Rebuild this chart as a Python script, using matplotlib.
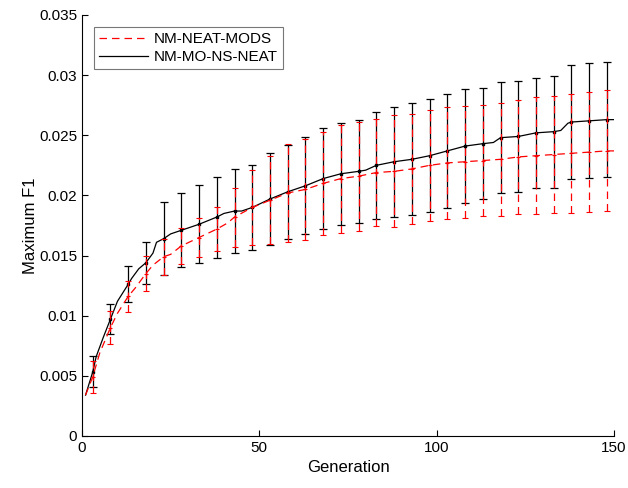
import numpy as np
import matplotlib
matplotlib.use('Agg')
import matplotlib.pyplot as plt

plt.rcParams['font.family'] = ['Liberation Sans', 'DejaVu Sans']

#===============================================================================
# data
#===============================================================================
# continuous mean curves
gen_black = [1, 3, 4, 6, 8, 10, 13, 14, 16, 18, 20, 21, 23, 25, 28, 33, 38, 40, 43, 45,
             48, 53, 58, 63, 68, 73, 78, 80, 83, 88, 93, 98, 103, 108, 113, 116, 118,
             123, 128, 133, 135, 137, 138, 143, 148, 150]
mean_black = [0.0034, 0.0053, 0.0066, 0.0082, 0.0097, 0.0112, 0.0126, 0.0131, 0.0139, 0.0144,
              0.0152, 0.0161, 0.0164, 0.0168, 0.0171, 0.0176, 0.0182, 0.0185, 0.0187, 0.0187,
              0.0190, 0.0197, 0.0203, 0.0208, 0.0214, 0.0218, 0.0220, 0.0221, 0.0225, 0.0228,
              0.0230, 0.0233, 0.0237, 0.0241, 0.0243, 0.0244, 0.0248, 0.0249, 0.0252, 0.0253,
              0.0254, 0.0260, 0.0261, 0.0262, 0.0263, 0.0263]

gen_red = [1, 3, 5, 8, 10, 13, 15, 18, 20, 23, 25, 28, 33, 38, 41, 43, 48, 53, 58, 63, 68,
           73, 78, 83, 88, 93, 98, 103, 108, 113, 118, 123, 128, 133, 138, 143, 148, 150]
mean_red = [0.0034, 0.0049, 0.0069, 0.0090, 0.0102, 0.0116, 0.0123, 0.0135, 0.0142, 0.0149,
            0.0151, 0.0158, 0.0165, 0.0172, 0.0177, 0.0182, 0.0190, 0.0196, 0.0202, 0.0205,
            0.0210, 0.0214, 0.0216, 0.0219, 0.0220, 0.0222, 0.0225, 0.0227, 0.0228, 0.0229,
            0.0230, 0.0232, 0.0233, 0.0234, 0.0235, 0.0236, 0.0237, 0.0237]

# error bars every 5 generations
gen_bars = [3, 8, 13, 18, 23, 28, 33, 38, 43, 48, 53, 58, 63, 68, 73, 78, 83, 88, 93, 98,
            103, 108, 113, 118, 123, 128, 133, 138, 143, 148]
bar_mean_black = [0.00535, 0.0097, 0.0126, 0.0144, 0.0164, 0.0171, 0.0176, 0.0182, 0.0187, 0.0190,
                  0.0197, 0.0203, 0.0208, 0.0214, 0.0218, 0.0220, 0.0225, 0.0228, 0.0230, 0.0233,
                  0.0237, 0.0241, 0.0243, 0.0248, 0.0249, 0.0252, 0.0253, 0.0261, 0.0262, 0.0263]
bar_err_black = [0.0013, 0.00126, 0.00149, 0.00173, 0.00304, 0.00309, 0.00326, 0.00337, 0.00347, 0.00355,
                 0.00383, 0.00392, 0.00403, 0.00419, 0.00426, 0.00431, 0.00445, 0.00456, 0.00466, 0.00469,
                 0.00473, 0.00471, 0.00462, 0.00461, 0.0046, 0.00458, 0.00466, 0.00476, 0.00478, 0.00479]
bar_mean_red = [0.0049, 0.0090, 0.0116, 0.0135, 0.0149, 0.0158, 0.0165, 0.0172, 0.0182, 0.0190,
                0.0196, 0.0202, 0.0205, 0.0210, 0.0214, 0.0216, 0.0219, 0.0220, 0.0222, 0.0225,
                0.0227, 0.0228, 0.0229, 0.0230, 0.0232, 0.0233, 0.0234, 0.0235, 0.0236, 0.0237]
bar_err_red = [0.00132, 0.00139, 0.0013, 0.00146, 0.0015, 0.0015, 0.00159, 0.0018, 0.00245, 0.00315,
               0.00366, 0.00409, 0.00418, 0.00426, 0.00449, 0.00454, 0.00448, 0.00466, 0.00455, 0.0046,
               0.00464, 0.00466, 0.00465, 0.00468, 0.00477, 0.00487, 0.00489, 0.00495, 0.00502, 0.00503]

yticks = [0, 0.005, 0.01, 0.015, 0.02, 0.025, 0.03, 0.035]
ytick_labels = ['0', '0.005', '0.01', '0.015', '0.02', '0.025', '0.03', '0.035']
xticks = [0, 50, 100, 150]

#===============================================================================
# figure
#===============================================================================
fig = plt.figure(figsize=(6.28, 4.88), dpi=100)
ax = fig.add_axes([0.1306, 0.1066, 0.8471, 0.8627])

dash = (0, (6, 4))

# black series
ax.plot(gen_black, mean_black, color='black', lw=0.9, zorder=3)
eb = ax.errorbar(gen_bars, bar_mean_black, yerr=bar_err_black, fmt='s', color='black',
                 ms=2.0, ecolor='black', elinewidth=0.9, capsize=3, capthick=0.9, zorder=3)

# red series (drawn on top, dashed)
ax.plot(gen_red, mean_red, color='red', lw=0.9, linestyle=dash, zorder=4)
er = ax.errorbar(gen_bars, bar_mean_red, yerr=bar_err_red, fmt='+', color='red',
                 ms=3.5, mew=0.8, ecolor='red', elinewidth=0.9, capsize=2.5, capthick=0.9, zorder=4)
er[2][0].set_linestyle([(0, (6, 4))])

# legend proxies
h_red, = ax.plot([], [], color='red', lw=0.9, linestyle=dash, label='NM-NEAT-MODS')
h_blk, = ax.plot([], [], color='black', lw=0.9, label='NM-MO-NS-NEAT')
leg = ax.legend(handles=[h_red, h_blk], loc='upper left', bbox_to_anchor=(0.022, 0.972),
                borderaxespad=0, fontsize=11, frameon=True, fancybox=False,
                handlelength=3.2, handletextpad=0.35, borderpad=0.35, labelspacing=0.25)
leg.get_frame().set_edgecolor('#555555')
leg.get_frame().set_linewidth(0.8)

#===============================================================================
# axes formatting
#===============================================================================
ax.set_xlim(0, 150)
ax.set_ylim(0, 0.035)
ax.set_xticks(xticks)
ax.set_yticks(yticks)
ax.set_yticklabels(ytick_labels)
ax.spines['top'].set_visible(False)
ax.spines['right'].set_visible(False)
ax.tick_params(direction='in', length=4, width=0.8, labelsize=11)
ax.set_xlabel('Generation', fontsize=12, labelpad=4)
ax.set_ylabel('Maximum F1', fontsize=12, labelpad=1)

fig.savefig('out.png', dpi=100)
